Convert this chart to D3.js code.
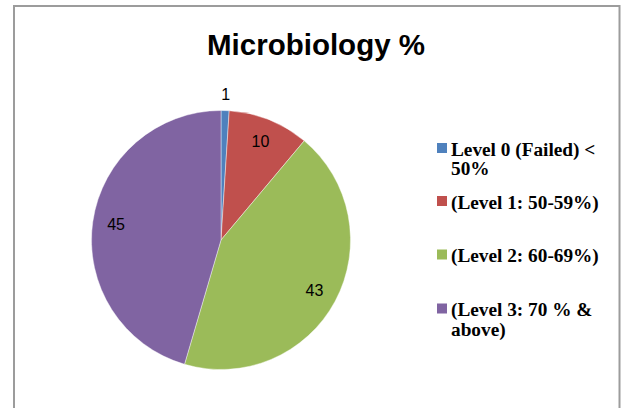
<!DOCTYPE html>
<html>
<head>
<meta charset="utf-8">
<script src="https://cdn.jsdelivr.net/npm/d3@7/dist/d3.min.js"></script>
<style>
  html, body { margin: 0; padding: 0; background: #fff; }
  svg { display: block; }
</style>
</head>
<body>
<script>
// ---- data ----
const title = "Microbiology %";
const categories = [
  "Level 0 (Failed) < 50%",
  "(Level 1: 50-59%)",
  "(Level 2: 60-69%)",
  "(Level 3: 70 % & above)"
];
const values = [1, 10, 43, 45];
const colors = ["#4F81BD", "#C0504D", "#9BBB59", "#8064A2"];

// ---- layout ----
const W = 621, H = 408;
const cx = 221, cy = 240, R = 129.5;

const svg = d3.select("body").append("svg")
  .attr("width", W).attr("height", H);

// chart border
svg.append("rect")
  .attr("x", 14).attr("y", 6)
  .attr("width", 605.5).attr("height", 430)
  .attr("fill", "none")
  .attr("stroke", "#9c9c9c")
  .attr("stroke-width", 2);

// title
svg.append("text")
  .attr("x", 316).attr("y", 54.5)
  .attr("text-anchor", "middle")
  .style("font-family", "'Liberation Sans', Arial, sans-serif")
  .style("font-weight", "bold")
  .style("font-size", "29.5px")
  .attr("fill", "#000")
  .text(title);

// pie
const data = categories.map((c, i) => ({ cat: c, value: values[i], color: colors[i] }));
const pie = d3.pie().value(d => d.value).sort(null);
const arcs = pie(data);
const total = d3.sum(values);
const arc = d3.arc().innerRadius(0).outerRadius(R);
const labelArcIn = d3.arc().innerRadius(106).outerRadius(106);
const labelArcOut = d3.arc().innerRadius(R + 16).outerRadius(R + 16);

const g = svg.append("g").attr("transform", `translate(${cx},${cy})`);
g.selectAll("path.slice").data(arcs).enter().append("path")
  .attr("class", "slice")
  .attr("d", arc)
  .attr("fill", d => d.data.color)
  .attr("stroke", "rgba(255,255,255,0.6)")
  .attr("stroke-width", 0.7);

g.selectAll("text.lbl").data(arcs).enter().append("text")
  .attr("class", "lbl")
  .attr("transform", d => {
    const small = d.data.value / total < 0.05;
    const p = (small ? labelArcOut : labelArcIn).centroid(d);
    return `translate(${p[0]},${p[1]})`;
  })
  .attr("text-anchor", "middle")
  .attr("dominant-baseline", "central")
  .style("font-family", "'Liberation Sans', Arial, sans-serif")
  .style("font-size", "16px")
  .attr("fill", "#000")
  .text(d => d.data.value);

// legend
const legX = 437, textX = 451, sq = 10;
const baselines = [155.5, 208.5, 262, 316];
const lineH = 19.5;
const wrapW = 158;
const leg = svg.append("g");
data.forEach((d, i) => {
  const y = baselines[i];
  leg.append("rect")
    .attr("x", legX).attr("y", y - 12.5)
    .attr("width", sq).attr("height", sq)
    .attr("fill", d.color);
  const t = leg.append("text")
    .attr("x", textX).attr("y", y)
    .style("font-family", "'Liberation Serif', 'Times New Roman', serif")
    .style("font-weight", "bold")
    .style("font-size", "19.3px")
    .attr("fill", "#000");
  // word wrap
  const words = d.cat.split(" ");
  let line = [];
  let lineNo = 0;
  let tspan = t.append("tspan").attr("x", textX).attr("y", y);
  words.forEach(w => {
    line.push(w);
    tspan.text(line.join(" "));
    if (tspan.node().getComputedTextLength() > wrapW && line.length > 1) {
      line.pop();
      tspan.text(line.join(" "));
      line = [w];
      lineNo++;
      tspan = t.append("tspan").attr("x", textX).attr("y", y + lineNo * lineH).text(w);
    }
  });
});
</script>
</body>
</html>
